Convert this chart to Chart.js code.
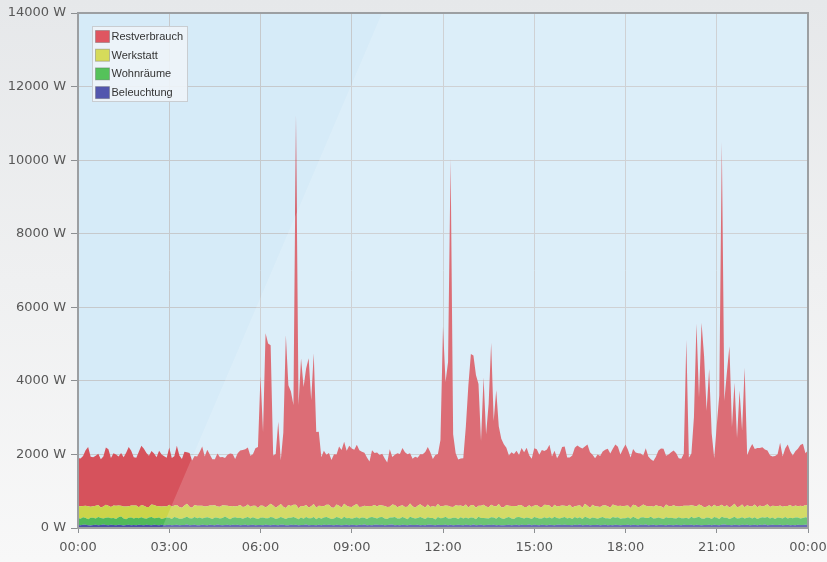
<!DOCTYPE html>
<html>
<head>
<meta charset="utf-8">
<script src="https://cdn.jsdelivr.net/npm/chart.js@4.4.0/dist/chart.umd.min.js"></script>
<style>
  html, body { margin: 0; padding: 0; }
  body { width: 827px; height: 562px; overflow: hidden; background: linear-gradient(#e6e8ea, #f8f8f8); }
</style>
</head>
<body>
<canvas id="chart" width="827" height="562"></canvas>
<script>
// 5 minute readings over one day (00:00 .. 00:00)
const stepMinutes = 5;
const tickLabels = ['00:00', '03:00', '06:00', '09:00', '12:00', '15:00', '18:00', '21:00', '00:00'];
const yTicks = [0, 2000, 4000, 6000, 8000, 10000, 12000, 14000];

const beleuchtung = [
  80,75,85,90,78,70,82,88,76,84,92,79,73,86,81,77,89,83,71,80,87,75,84,78,
  85,79,72,88,83,76,91,80,74,86,78,82,90,75,81,87,73,84,79,92,77,83,86,74,
  78,86,81,73,89,84,77,92,80,75,83,88,72,85,79,90,76,82,87,74,81,89,78,84,
  83,77,90,79,74,87,82,76,85,91,78,73,86,80,88,75,83,79,92,77,84,81,74,89,
  76,88,82,85,79,73,90,84,77,81,87,75,89,82,74,86,80,92,78,83,76,88,85,79,
  89,74,80,86,92,78,83,75,88,81,76,90,79,84,87,73,82,77,85,91,80,74,86,82,
  81,85,77,91,75,84,88,79,73,87,82,78,92,76,83,89,74,81,86,79,90,77,84,75,
  74,82,88,76,84,90,73,86,81,79,92,77,85,83,75,88,80,74,89,82,78,86,91,80,
  87,79,84,73,86,81,92,77,83,88,75,80,84,90,78,82,86,73,81,77,89,84,76,83,
  82,90,76,85,80,74,87,83,92,78,81,86,75,79,88,84,77,90,82,76,85,80,73,87,
  79,83,91,78,88,82,75,84,80,86,73,89,81,77,85,92,79,83,74,88,81,76,87,82,
  86,76,81,89,77,85,80,92,74,83,88,79,82,90,76,84,87,78,81,75,89,83,80,85,
  82
];

const wohnraeume = [
  190,175,205,180,160,210,195,170,225,185,165,200,215,180,190,170,205,230,185,160,195,210,175,200,
  180,215,190,165,200,225,175,195,210,160,185,205,190,170,220,195,180,165,200,215,185,175,210,190,
  205,170,195,220,180,160,210,190,175,200,230,185,165,195,215,180,200,170,190,225,175,205,185,160,
  195,210,175,185,225,200,165,190,215,180,170,205,195,220,185,160,200,175,210,190,180,215,165,195,
  175,200,220,190,165,185,210,195,170,225,180,200,160,190,215,175,205,185,170,200,220,190,175,210,
  210,185,165,200,195,220,175,180,210,190,165,215,200,175,185,225,190,170,205,180,195,160,210,185,
  190,220,180,170,205,195,160,215,185,200,175,210,190,165,225,180,200,185,170,210,195,175,220,190,
  170,195,210,185,160,200,225,190,175,205,180,165,215,195,185,170,210,190,200,175,225,185,165,200,
  215,180,195,170,210,185,200,165,220,190,175,205,185,160,200,215,180,195,170,225,190,205,175,185,
  185,205,175,220,190,165,200,210,180,195,225,170,190,205,175,160,215,185,200,190,170,210,195,180,
  200,170,215,185,195,225,180,165,205,190,175,210,195,170,220,185,200,160,195,215,180,190,205,175,
  195,215,180,200,170,190,210,185,225,175,195,165,205,190,180,215,170,200,185,210,195,175,190,205,
  195
];

const werkstatt = [
  320,340,310,335,355,300,315,345,325,290,330,350,315,305,340,360,320,295,330,345,310,325,355,335,
  300,330,345,315,290,335,360,320,305,340,325,295,350,330,310,345,320,300,335,355,315,290,330,340,
  325,350,310,295,340,365,330,305,320,345,300,335,355,315,290,330,350,320,305,340,325,310,345,300,
  335,315,290,340,360,325,305,330,350,310,295,345,320,335,360,300,315,340,325,290,330,355,310,320,
  345,300,330,355,315,290,340,325,310,350,335,300,320,345,365,310,295,330,340,315,305,350,325,335,
  310,340,325,295,350,330,305,345,320,300,335,360,315,290,330,345,325,310,350,300,320,340,355,315,
  330,305,345,320,290,340,355,315,325,350,300,330,345,310,295,335,360,320,305,340,315,330,350,300,
  320,345,310,335,355,300,325,340,315,290,345,330,310,350,320,305,340,360,325,295,330,315,345,335,
  305,330,350,315,295,340,325,310,355,330,300,345,320,335,290,315,350,325,305,340,330,310,355,320,
  340,315,295,330,350,320,305,345,335,310,290,325,355,315,330,300,345,320,310,350,335,295,325,340,
  325,350,310,340,300,330,355,315,295,345,320,335,310,350,325,300,340,315,330,355,305,320,345,310,
  335,300,325,350,315,340,295,330,345,310,320,355,305,335,325,300,340,350,315,330,310,345,320,335,
  325
];

const restverbrauch = [
  1310,1300,1360,1510,1610,1360,1330,1360,1390,1310,1360,1560,1540,1330,1420,1390,1330,1430,1340,1460,1610,1490,1310,1300,
  1510,1610,1550,1470,1390,1460,1400,1330,1510,1410,1360,1330,1560,1330,1340,1610,1400,1330,1460,1400,1460,1290,1330,1340,
  1460,1610,1360,1540,1390,1260,1250,1440,1350,1310,1290,1380,1430,1420,1290,1430,1480,1550,1560,1550,1380,1400,1560,1660,
  3510,2010,4740,4410,4310,1360,1460,2290,1190,2010,4700,3260,3110,2710,10590,2810,4010,3240,3710,4060,2880,4100,2060,2010,
  1330,1510,1360,1410,1290,1460,1360,1610,1560,1690,1500,1660,1590,1510,1610,1540,1490,1440,1330,1210,1510,1410,1470,1360,
  1410,1290,1210,1560,1290,1360,1470,1410,1560,1490,1430,1370,1290,1390,1310,1360,1410,1510,1560,1490,1280,1410,1360,1810,
  4870,3360,3910,9460,1980,1410,1260,1280,1310,2110,3310,4110,4060,3610,3310,1760,3460,1960,2810,4410,2310,3160,2110,1860,
  1710,1560,1360,1460,1410,1510,1360,1560,1490,1610,1360,1310,1560,1510,1410,1560,1460,1510,1650,1390,1470,1310,1410,1590,
  1610,1330,1290,1410,1590,1640,1580,1610,1560,1660,1510,1360,1310,1410,1390,1470,1510,1560,1470,1510,1660,1610,1390,1560,
  1660,1510,1370,1510,1430,1470,1430,1330,1560,1360,1270,1240,1320,1510,1570,1610,1330,1400,1470,1490,1440,1310,1290,1410,
  4510,1310,1410,2410,4970,2910,4970,4110,2610,3700,2010,1260,2210,3010,9860,2880,3610,4380,2150,3290,1880,3150,2010,3790,
  1360,1560,1700,1510,1610,1560,1610,1530,1460,1410,1340,1360,1410,1700,1360,1560,1670,1460,1390,1470,1560,1650,1700,1410,1510
];

const pad = n => String(n).padStart(2, '0');
const timeLabels = restverbrauch.map((_, i) => {
  const m = (i * stepMinutes) % 1440;
  return pad(Math.floor(m / 60)) + ':' + pad(m % 60);
});
const ticksEvery = 180 / stepMinutes;

// plot background, glass sheen, frame and the boxed legend
const decoration = {
  id: 'decoration',
  beforeDatasetsDraw(chart) {
    const { ctx, chartArea: a } = chart;
    ctx.save();
    ctx.globalCompositeOperation = 'destination-over';
    ctx.fillStyle = '#d6ebf8';
    ctx.fillRect(a.left, a.top, a.right - a.left, a.bottom - a.top);
    ctx.restore();
  },
  afterDatasetsDraw(chart) {
    const { ctx, chartArea: a } = chart;
    ctx.save();
    ctx.beginPath();
    ctx.rect(a.left, a.top, a.right - a.left, a.bottom - a.top);
    ctx.clip();
    ctx.beginPath();
    ctx.moveTo(382, a.top);
    ctx.lineTo(a.right, a.top);
    ctx.lineTo(a.right, a.bottom);
    ctx.lineTo(162, a.bottom);
    ctx.closePath();
    ctx.fillStyle = 'rgba(255,255,255,0.16)';
    ctx.fill();
    ctx.restore();

    ctx.save();
    ctx.strokeStyle = '#9c9fa2';
    ctx.lineWidth = 2;
    ctx.strokeRect(a.left, a.top, a.right - a.left, a.bottom - a.top);

    // legend
    const lx = 92.5, ly = 26.5, lw = 95, lh = 75;
    ctx.fillStyle = 'rgba(238,244,248,0.9)';
    ctx.fillRect(lx, ly, lw, lh);
    ctx.strokeStyle = '#c9cdd1';
    ctx.lineWidth = 1;
    ctx.strokeRect(lx, ly, lw, lh);
    ctx.font = '11px "Liberation Sans", Arial, sans-serif';
    ctx.textBaseline = 'middle';
    const items = chart.data.datasets.slice().reverse();
    items.forEach((ds, k) => {
      const cy = 36.5 + k * 18.7;
      ctx.fillStyle = ds.legendColor;
      ctx.fillRect(95.5, cy - 6, 14, 12);
      ctx.strokeStyle = 'rgba(90,90,90,0.35)';
      ctx.strokeRect(95.5, cy - 6, 14, 12);
      ctx.fillStyle = '#333';
      ctx.fillText(ds.label, 111.5, cy + 0.5);
    });
    ctx.restore();
  }
};

const area = (label, data, color, legendColor, fill) => ({
  label, data, fill,
  backgroundColor: color,
  borderColor: 'rgba(0,0,0,0)',
  borderWidth: 0,
  pointRadius: 0,
  tension: 0,
  legendColor
});

new Chart(document.getElementById('chart'), {
  type: 'line',
  data: {
    labels: timeLabels,
    datasets: [
      area('Beleuchtung', beleuchtung, '#4a4fa6', '#5256ae', 'origin'),
      area('Wohnräume', wohnraeume, '#50b95a', '#55c25a', '-1'),
      area('Werkstatt', werkstatt, '#cbd54a', '#d6db5a', '-1'),
      area('Restverbrauch', restverbrauch, '#d6525c', '#df5661', '-1')
    ]
  },
  options: {
    responsive: false,
    animation: false,
    layout: { padding: { top: 13, right: 19, left: 0, bottom: 0 } },
    plugins: { legend: { display: false }, tooltip: { enabled: false } },
    scales: {
      x: {
        afterFit(scale) {
          scale.height = 34;
          scale.paddingLeft = 0;
          scale.paddingRight = 0;
        },
        grid: { color: '#c6c9cc', lineWidth: 1, tickLength: 5, tickColor: '#8c8f92' },
        border: { display: false },
        ticks: {
          autoSkip: false,
          maxRotation: 0,
          padding: 7,
          color: '#585858',
          font: { family: '"DejaVu Sans", Verdana, sans-serif', size: 13 },
          callback: (v, i) => (i % ticksEvery === 0 ? tickLabels[i / ticksEvery] : null)
        }
      },
      y: {
        stacked: true,
        min: yTicks[0],
        max: yTicks[yTicks.length - 1],
        afterFit(scale) { scale.width = 78; },
        afterBuildTicks(scale) { scale.ticks = yTicks.map(v => ({ value: v })); },
        grid: { color: '#c6c9cc', lineWidth: 1, tickLength: 7, tickColor: '#8c8f92' },
        border: { display: false },
        ticks: {
          padding: 5,
          color: '#585858',
          font: { family: '"DejaVu Sans", Verdana, sans-serif', size: 13 },
          callback: v => v + ' W'
        }
      }
    }
  },
  plugins: [decoration]
});
</script>
</body>
</html>
